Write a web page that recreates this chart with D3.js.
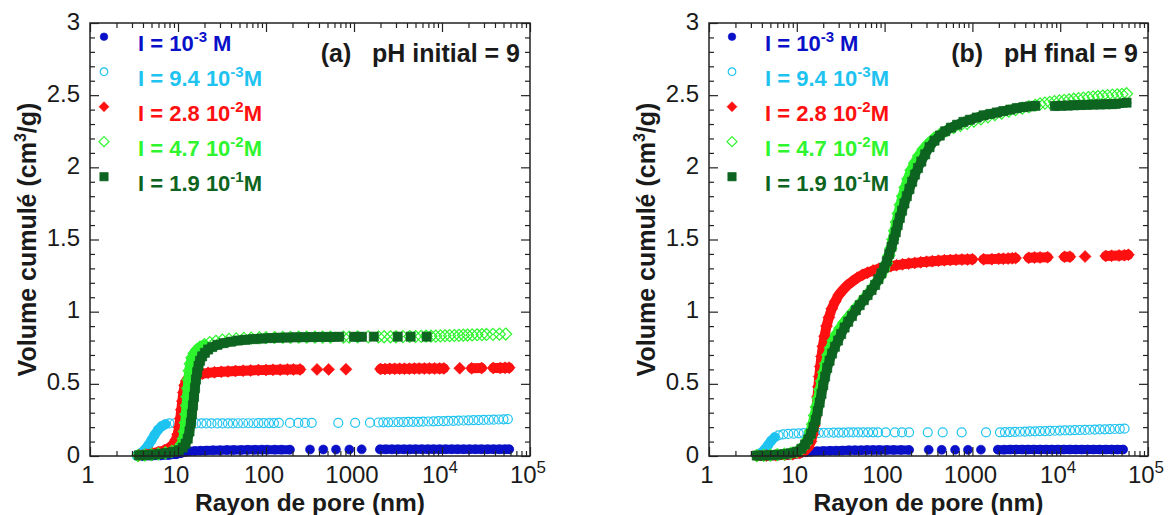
<!DOCTYPE html>
<html><head><meta charset="utf-8">
<script src="https://cdn.jsdelivr.net/npm/d3@7"></script>
<style>
body{margin:0;background:#fff}
svg{display:block}
text{font-family:"Liberation Sans",Arial,Helvetica,sans-serif}
</style>
</head><body>
<svg id="c" width="1168" height="515"></svg>
<script>
// ---------------- DATA ----------------
const xTickValues = [1, 10, 100, 1000, 10000, 100000];
const xTickBase = ["1", "10", "100", "1000", "10", "10"];
const xTickExp = ["", "", "", "", "4", "5"];
const yTickValues = [0, 0.5, 1, 1.5, 2, 2.5, 3];
const yTickLabels = ["0", "0.5", "1", "1.5", "2", "2.5", "3"];
const xTitle = "Rayon de pore (nm)";
const yTitleParts = ["Volume cumulé (cm", "3", "/g)"];
const panelTitles = ["(a)   pH initial = 9", "(b)   pH final = 9"];
const legendPrefix = "I = ";
const legendMantissa = ["10", "9.4 10", "2.8 10", "4.7 10", "1.9 10"];
const legendExponent = ["-3", "-3", "-2", "-2", "-1"];
const legendUnit = [" M", "M", "M", "M", "M"];

// Panel (a) pH initial = 9 : [pore radius nm, cumulative volume cm3/g]
const aBlue = [[4,0],[5,0.002],[6.3,0.004],[7.8,0.007],[9.5,0.012],[10.8,0.02],[12,0.027],[13.5,0.032],[15.5,0.035],[18,0.037],[21,0.038],[25,0.039],[30,0.04],[36,0.041],[43,0.042],[52,0.042],[62,0.043],[75,0.043],[90,0.044],[103,0.044],[126,0.044],[150,0.044],[187,0.044],[316,0.045],[448,0.045],[624,0.045],[885,0.045],[1222,0.046],[1970,0.046],[2300,0.046],[2700,0.046],[3150,0.046],[3700,0.046],[4300,0.046],[5000,0.047],[5900,0.047],[6900,0.047],[8000,0.047],[9400,0.047],[11000,0.047],[12900,0.047],[15000,0.047],[17600,0.047],[20500,0.047],[24000,0.047],[28000,0.047],[33000,0.047],[38500,0.047],[45000,0.047],[52000,0.047],[58000,0.047]];
const aLightBlue = [[3.4,0.003],[3.8,0.02],[4.2,0.045],[4.6,0.075],[5,0.11],[5.4,0.145],[5.9,0.18],[6.5,0.205],[7.2,0.22],[8,0.226],[9.2,0.227],[10.6,0.227],[12.2,0.226],[14,0.226],[16,0.226],[18.5,0.226],[21,0.226],[24,0.226],[28,0.226],[32,0.226],[37,0.226],[42,0.226],[48,0.227],[55,0.227],[63,0.227],[72,0.227],[82,0.228],[94,0.228],[108,0.228],[123,0.228],[140,0.229],[187,0.229],[233,0.229],[277,0.229],[331,0.23],[663,0.23],[1030,0.23],[1517,0.231],[1900,0.232],[2150,0.233],[2450,0.233],[2800,0.234],[3200,0.235],[3650,0.235],[4150,0.236],[4700,0.237],[5400,0.237],[6100,0.238],[7000,0.239],[8000,0.24],[9100,0.241],[10400,0.242],[11800,0.243],[13500,0.244],[15400,0.245],[17500,0.246],[20000,0.247],[22800,0.248],[26000,0.249],[29700,0.25],[34000,0.251],[38700,0.252],[44000,0.253],[50000,0.254],[56000,0.256]];
const aRed = [[3.6,0.005],[4.3,0.01],[5.1,0.018],[6,0.028],[7,0.04],[8,0.058],[8.8,0.08],[9.4,0.11],[9.9,0.15],[10.3,0.2],[10.6,0.26],[10.9,0.32],[11.2,0.38],[11.5,0.44],[11.9,0.49],[12.4,0.52],[13.2,0.54],[14.5,0.553],[16.5,0.563],[19,0.57],[22,0.576],[26,0.58],[31,0.583],[37,0.586],[45,0.589],[55,0.591],[67,0.593],[82,0.595],[100,0.596],[120,0.597],[145,0.598],[175,0.599],[205,0.6],[244,0.6],[380,0.6],[515,0.6],[810,0.601],[2000,0.603],[2250,0.603],[2550,0.604],[2900,0.604],[3300,0.605],[3750,0.605],[4250,0.605],[4850,0.606],[5500,0.606],[6300,0.606],[7200,0.607],[8200,0.607],[9400,0.607],[10500,0.607],[15900,0.608],[21700,0.608],[28200,0.609],[38300,0.61],[46000,0.61],[52000,0.611],[58000,0.612]];
const aLightGreen = [[3.5,0.003],[4.2,0.006],[5,0.01],[6,0.015],[7.2,0.022],[8.5,0.032],[9.6,0.045],[10.4,0.06],[11,0.085],[11.5,0.12],[11.8,0.17],[12.1,0.23],[12.3,0.29],[12.5,0.35],[12.7,0.41],[12.9,0.47],[13.1,0.53],[13.4,0.59],[13.8,0.64],[14.4,0.68],[15.2,0.71],[16.3,0.735],[17.8,0.755],[20,0.772],[23,0.785],[27,0.795],[32,0.803],[38,0.808],[46,0.812],[56,0.815],[68,0.817],[84,0.819],[100,0.82],[125,0.821],[155,0.822],[190,0.822],[235,0.823],[290,0.823],[360,0.824],[440,0.824],[540,0.824],[760,0.824],[880,0.824],[1100,0.825],[1450,0.825],[1900,0.825],[2200,0.826],[2600,0.826],[3000,0.826],[3600,0.827],[4300,0.828],[5000,0.828],[5800,0.829],[6600,0.83],[7500,0.83],[8500,0.831],[9600,0.832],[10800,0.833],[12200,0.834],[13800,0.835],[15600,0.836],[17500,0.837],[19500,0.838],[22000,0.839],[25000,0.84],[28500,0.841],[32000,0.842],[38000,0.843],[45000,0.844],[53000,0.845]];
const aDarkGreen = [[3.6,0.005],[4.3,0.007],[5.2,0.01],[6.2,0.015],[7.4,0.02],[8.8,0.028],[10.2,0.04],[11.3,0.058],[12.2,0.085],[12.9,0.12],[13.5,0.17],[14,0.23],[14.4,0.29],[14.8,0.35],[15.2,0.41],[15.6,0.47],[16,0.53],[16.5,0.58],[17.1,0.625],[17.8,0.66],[18.8,0.69],[20.2,0.715],[22,0.738],[24.5,0.755],[28,0.77],[33,0.782],[40,0.792],[48,0.8],[58,0.805],[72,0.81],[90,0.814],[112,0.817],[140,0.82],[175,0.821],[220,0.822],[275,0.823],[345,0.824],[430,0.825],[540,0.825],[680,0.826],[1000,0.826],[1230,0.826],[1680,0.827],[3140,0.827],[4400,0.827],[6700,0.827]];

// Panel (b) pH final = 9
const bBlue = [[4,0],[5,0.002],[6.3,0.004],[7.8,0.007],[9.5,0.012],[11,0.02],[12.5,0.026],[14.5,0.03],[17,0.033],[20,0.035],[24,0.036],[28,0.037],[33,0.038],[39,0.039],[46,0.04],[54,0.04],[63,0.041],[74,0.041],[87,0.042],[106,0.042],[127,0.042],[154,0.042],[190,0.042],[318,0.043],[447,0.043],[635,0.043],[890,0.043],[1250,0.044],[1950,0.044],[2300,0.044],[2700,0.045],[3150,0.045],[3700,0.045],[4300,0.045],[5000,0.045],[5900,0.045],[6900,0.045],[8000,0.045],[9400,0.045],[11000,0.045],[12900,0.045],[15000,0.045],[17600,0.045],[20500,0.045],[24000,0.045],[28000,0.045],[33000,0.045],[38500,0.045],[45000,0.045],[52000,0.045]];
const bLightBlue = [[3.5,0.003],[3.9,0.02],[4.3,0.045],[4.7,0.075],[5.1,0.105],[5.6,0.13],[6.2,0.143],[7,0.15],[8,0.153],[9.2,0.155],[10.5,0.157],[12,0.158],[13.7,0.159],[15.6,0.16],[17.8,0.16],[20.3,0.161],[23,0.161],[26.3,0.162],[30,0.162],[34,0.162],[39,0.163],[44,0.163],[50,0.163],[57,0.163],[65,0.164],[74,0.164],[84,0.164],[103,0.164],[131,0.164],[158,0.164],[190,0.164],[310,0.164],[459,0.164],[755,0.164],[1430,0.164],[2060,0.164],[2350,0.165],[2680,0.166],[3050,0.167],[3480,0.168],[3970,0.169],[4520,0.17],[5150,0.171],[5870,0.172],[6700,0.173],[7630,0.174],[8700,0.175],[9900,0.176],[11300,0.177],[12900,0.178],[14700,0.179],[16700,0.18],[19100,0.181],[21700,0.182],[24800,0.183],[28200,0.184],[32200,0.185],[36700,0.186],[41800,0.187],[47700,0.188],[54000,0.19]];
const bRed = [[3.5,0.002],[4.5,0.003],[5.8,0.005],[7.3,0.008],[9,0.012],[10.8,0.02],[12.3,0.035],[13.5,0.06],[14.5,0.1],[15.2,0.15],[15.8,0.21],[16.3,0.27],[16.8,0.34],[17.2,0.41],[17.6,0.48],[18,0.55],[18.5,0.62],[19.1,0.69],[19.8,0.76],[20.7,0.83],[21.8,0.9],[23.2,0.96],[25,1.02],[27.3,1.07],[30,1.115],[33.5,1.15],[38,1.185],[43,1.21],[49,1.235],[56,1.255],[64,1.27],[74,1.285],[86,1.297],[100,1.307],[117,1.315],[137,1.322],[160,1.328],[188,1.333],[220,1.338],[258,1.342],[300,1.346],[350,1.35],[410,1.353],[480,1.356],[560,1.358],[650,1.36],[760,1.361],[880,1.362],[1000,1.363],[1340,1.363],[1670,1.364],[1990,1.366],[2250,1.367],[2550,1.368],[2850,1.37],[3100,1.371],[4380,1.373],[5080,1.375],[5900,1.376],[7180,1.377],[11200,1.38],[12900,1.381],[19200,1.382],[33000,1.386],[38400,1.387],[46800,1.389],[54000,1.391],[59800,1.394]];
const bLightGreen = [[3.5,0.003],[4.2,0.004],[5,0.006],[6,0.009],[7.2,0.013],[8.5,0.019],[10,0.03],[11.3,0.05],[12.4,0.08],[13.4,0.12],[14.3,0.17],[15.1,0.22],[15.9,0.28],[16.7,0.34],[17.5,0.4],[18.3,0.46],[19.2,0.52],[20.2,0.58],[21.3,0.64],[22.6,0.7],[24.2,0.75],[26,0.8],[28.3,0.845],[31,0.885],[34.5,0.925],[38.5,0.96],[43,0.995],[48,1.03],[54,1.065],[60,1.1],[67,1.135],[74,1.17],[82,1.21],[90,1.25],[98,1.29],[105,1.335],[112,1.39],[118,1.44],[124,1.5],[130,1.56],[136,1.62],[143,1.68],[151,1.74],[160,1.8],[171,1.86],[184,1.92],[200,1.98],[220,2.03],[245,2.08],[275,2.125],[315,2.165],[365,2.2],[430,2.23],[510,2.255],[610,2.275],[730,2.29],[870,2.305],[1040,2.32],[1250,2.335],[1500,2.35],[1800,2.365],[2150,2.375],[2600,2.39],[3100,2.4],[3700,2.41],[4400,2.42],[5200,2.43],[5900,2.44],[6700,2.445],[7600,2.45],[8600,2.455],[9800,2.46],[11100,2.464],[12600,2.468],[14300,2.472],[16200,2.476],[18400,2.48],[20900,2.484],[23700,2.488],[26900,2.491],[30500,2.494],[34600,2.497],[39300,2.5],[44600,2.503],[50600,2.506],[57000,2.51]];
const bDarkGreen = [[3.5,0.003],[4.2,0.004],[5,0.006],[6,0.009],[7.2,0.013],[8.5,0.019],[10,0.03],[11.3,0.05],[12.4,0.08],[13.5,0.115],[14.5,0.155],[15.5,0.2],[16.4,0.25],[17.3,0.31],[18.2,0.37],[19.1,0.43],[20,0.49],[21,0.55],[22.2,0.61],[23.6,0.66],[25.2,0.71],[27.2,0.757],[29.5,0.8],[32,0.845],[35,0.89],[38.5,0.93],[42.5,0.97],[47,1.01],[52,1.045],[58,1.08],[64,1.115],[71,1.15],[78,1.185],[85,1.225],[92,1.265],[99,1.305],[106,1.35],[113,1.4],[120,1.45],[127,1.5],[134,1.55],[141,1.6],[149,1.65],[158,1.7],[168,1.75],[179,1.8],[192,1.85],[206,1.9],[222,1.95],[240,1.995],[262,2.04],[290,2.09],[325,2.14],[370,2.185],[425,2.22],[490,2.25],[570,2.275],[670,2.295],[790,2.315],[940,2.33],[1120,2.345],[1340,2.36],[1600,2.37],[1900,2.38],[2250,2.39],[2700,2.4],[3200,2.41],[3800,2.417],[4500,2.422],[5200,2.426],[8700,2.425],[10300,2.427],[12200,2.428],[14500,2.43],[17000,2.432],[20000,2.433],[24000,2.435],[28500,2.436],[33500,2.437],[39000,2.438],[43000,2.44],[57000,2.448]];

// ---------------- STYLE / LAYOUT ----------------
const styles = [
  {color: "#0a10c8", shape: "circle", filled: true, size: 4.5, legendSize: 3.8, band: 9},
  {color: "#1ec3f0", shape: "circle", filled: false, size: 4.5, legendSize: 3.8, band: 9.5},
  {color: "#ff1010", shape: "diamond", filled: true, size: 6, legendSize: 5, band: 10},
  {color: "#2ef52e", shape: "diamond", filled: false, size: 6, legendSize: 5, band: 10},
  {color: "#0d6420", shape: "square", filled: true, size: 4.6, legendSize: 4.2, band: 9.5}
];
const panels = [
  {left: 90, right: 530, top: 23, bottom: 456, series: [aBlue, aLightBlue, aRed, aLightGreen, aDarkGreen], title: panelTitles[0], legendSymX: 104, legendTextX: 138, yTitleX: 27},
  {left: 709, right: 1148, top: 23, bottom: 456, series: [bBlue, bLightBlue, bRed, bLightGreen, bDarkGreen], title: panelTitles[1], legendSymX: 732, legendTextX: 765, yTitleX: 646}
];

function shapePath(shape, s) {
  if (shape === "circle") return `M${-s},0a${s},${s} 0 1,0 ${2*s},0a${s},${s} 0 1,0 ${-2*s},0Z`;
  if (shape === "diamond") return `M0,${-s}L${s},0L0,${s}L${-s},0Z`;
  return `M${-s},${-s}h${2*s}v${2*s}h${-2*s}Z`;
}

const svg = d3.select("#c");
const ink = "#1a1a1a";

function drawPanel(p) {
  const x = d3.scaleLog().domain([1, 1e5]).range([p.left, p.right]);
  const y = d3.scaleLinear().domain([0, 3]).range([p.bottom, p.top]);
  const g = svg.append("g");

  // series
  p.series.forEach((data, si) => {
    const st = styles[si];
    const sg = g.append("g");
    const pts = data.map(d => [x(d[0]), y(d[1])]);
    const runs = [];
    let cur = [pts[0]];
    for (let i = 1; i < pts.length; i++) {
      const dx = pts[i][0] - pts[i-1][0], dy = pts[i][1] - pts[i-1][1];
      const ok = Math.hypot(dx, dy) < 11 && (st.filled || Math.abs(dy) > 0.5 * Math.abs(dx));
      if (ok) cur.push(pts[i]); else { runs.push(cur); cur = [pts[i]]; }
    }
    runs.push(cur);
    sg.append("g").selectAll("path").data(runs.filter(r => r.length > 1)).join("path")
      .attr("d", d3.line())
      .attr("fill", "none").attr("stroke", st.color).attr("stroke-width", st.band)
      .attr("stroke-linejoin", "round").attr("stroke-linecap", "round");
    sg.append("g").selectAll("path").data(pts).join("path")
      .attr("transform", d => `translate(${d[0]},${d[1]})`)
      .attr("d", shapePath(st.shape, st.size))
      .attr("fill", st.filled ? st.color : "none")
      .attr("stroke", st.color)
      .attr("stroke-width", st.filled ? 0.6 : 1.2);
  });

  // ticks
  const xMinor = x.ticks().filter(v => !xTickValues.includes(v));
  const yMinor = y.ticks(30).filter(v => Math.abs(v * 2 - Math.round(v * 2)) > 1e-6);
  const mk = (axisFn, scale, vals, size, tr) => g.append("g").attr("transform", tr)
    .call(axisFn(scale).tickValues(vals).tickSize(size).tickSizeOuter(0).tickFormat(""))
    .call(a => { a.select(".domain").remove(); a.selectAll("line").attr("stroke", "#222").attr("stroke-width", 1.2); });
  mk(d3.axisBottom, x, xTickValues, -9, `translate(0,${p.bottom})`);
  mk(d3.axisBottom, x, xMinor, -5, `translate(0,${p.bottom})`);
  mk(d3.axisTop, x, xTickValues, -9, `translate(0,${p.top})`);
  mk(d3.axisTop, x, xMinor, -5, `translate(0,${p.top})`);
  mk(d3.axisLeft, y, yTickValues, -9, `translate(${p.left},0)`);
  mk(d3.axisLeft, y, yMinor, -5, `translate(${p.left},0)`);
  mk(d3.axisRight, y, yTickValues, -9, `translate(${p.right},0)`);
  mk(d3.axisRight, y, yMinor, -5, `translate(${p.right},0)`);

  // frame
  g.append("rect").attr("x", p.left).attr("y", p.top)
    .attr("width", p.right - p.left).attr("height", p.bottom - p.top)
    .attr("fill", "none").attr("stroke", "#222").attr("stroke-width", 1.5);

  // x tick labels
  xTickValues.forEach((v, i) => {
    const t = g.append("text").attr("x", x(v) - 2).attr("y", 483)
      .attr("text-anchor", "middle").attr("font-size", 24).attr("fill", ink);
    t.append("tspan").text(xTickBase[i]);
    if (xTickExp[i]) t.append("tspan").attr("font-size", 17).attr("dy", -10).text(xTickExp[i]);
  });
  // y tick labels
  yTickValues.forEach((v, i) => {
    g.append("text").attr("x", p.left - 10).attr("y", y(v) + 6.5)
      .attr("text-anchor", "end").attr("font-size", 24).attr("fill", ink).text(yTickLabels[i]);
  });

  // axis titles
  g.append("text").attr("x", (p.left + p.right) / 2).attr("y", 510.5)
    .attr("text-anchor", "middle").attr("font-size", 24.5).attr("font-weight", "bold").attr("fill", ink).text(xTitle);
  const yt = g.append("text").attr("transform", `translate(${p.yTitleX},${(p.top + p.bottom) / 2}) rotate(-90)`)
    .attr("y", 9).attr("text-anchor", "middle").attr("font-size", 25).attr("font-weight", "bold").attr("fill", ink);
  yt.append("tspan").text(yTitleParts[0]);
  yt.append("tspan").attr("font-size", 16).attr("dy", -10).text(yTitleParts[1]);
  yt.append("tspan").attr("dy", 10).text(yTitleParts[2]);

  // panel title
  g.append("text").attr("x", p.right - 10).attr("y", 62)
    .attr("xml:space", "preserve").style("white-space", "pre")
    .attr("text-anchor", "end").attr("font-size", 25).attr("font-weight", "bold").attr("fill", ink).text(p.title);

  // legend
  styles.forEach((st, i) => {
    g.append("path").attr("transform", `translate(${p.legendSymX},${36.7 + 35 * i})`)
      .attr("d", shapePath(st.shape, st.legendSize))
      .attr("fill", st.filled ? st.color : "none").attr("stroke", st.color).attr("stroke-width", st.filled ? 0.6 : 1.2);
    const t = g.append("text").attr("x", p.legendTextX).attr("y", 51 + 35 * i)
      .attr("font-size", 22).attr("font-weight", "bold").attr("fill", st.color)
      .attr("xml:space", "preserve").style("white-space", "pre");
    t.append("tspan").text(legendPrefix + legendMantissa[i]);
    t.append("tspan").attr("font-size", 15).attr("dy", -9).text(legendExponent[i]);
    t.append("tspan").attr("dy", 9).text(legendUnit[i]);
  });
}

panels.forEach(drawPanel);
</script>
</body></html>
